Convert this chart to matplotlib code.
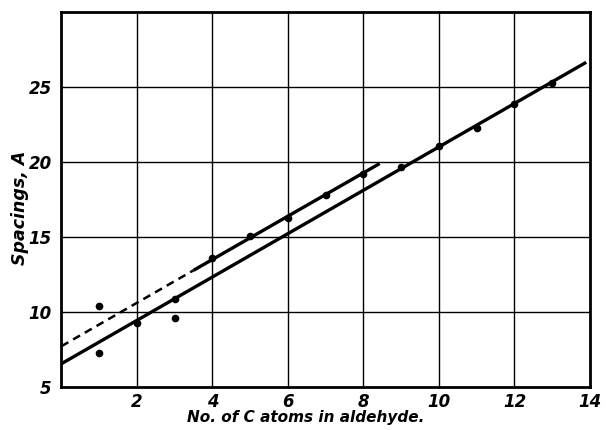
"""Spacings vs number of C atoms in aldehyde, redrawn from the scanned figure."""

import matplotlib
matplotlib.use("Agg")
import matplotlib.pyplot as plt

# Section: values.
carbon_atoms = [1, 1, 2, 3, 3, 4, 5, 6, 7, 8, 9, 10, 11, 12, 13]
spacings = [10.4, 7.3, 9.3, 10.9, 9.6, 13.6, 15.1, 16.3, 17.8, 19.2,
            19.7, 21.1, 22.3, 23.9, 25.3]

# lower fitted line (solid over the whole range)
lower_x = [0, 13.9]
lower_y = [6.55, 26.65]

# upper fitted line: dashed extrapolation, then solid
upper_dash_x = [0, 3.5]
upper_dash_y = [7.72, 12.78]
upper_solid_x = [3.5, 8.43]
upper_solid_y = [12.78, 19.9]

x_ticks = [2, 4, 6, 8, 10, 12, 14]
y_ticks = [5, 10, 15, 20, 25]

FONT = "DejaVu Sans"

# Section: draw the figure.
fig = plt.figure(figsize=(6.06, 4.30), dpi=100)
ax = fig.add_axes([0.1013, 0.1, 0.8723, 0.872])

ax.set_xlim(0, 14)
ax.set_ylim(5, 30)

for gx in range(2, 14, 2):
    ax.axvline(gx, color="black", lw=1.0, zorder=1)
for gy in range(10, 30, 5):
    ax.axhline(gy, color="black", lw=1.0, zorder=1)

ax.plot(lower_x, lower_y, color="black", lw=2.4, solid_capstyle="butt", zorder=3)
ax.plot(upper_dash_x, upper_dash_y, color="black", lw=1.8,
        dashes=(3.2, 2.2), zorder=3)
ax.plot(upper_solid_x, upper_solid_y, color="black", lw=2.4,
        solid_capstyle="butt", zorder=3)
ax.plot(carbon_atoms, spacings, "o", color="black", ms=4.5, zorder=4)

for side in ax.spines.values():
    side.set_linewidth(2.0)

ax.set_xticks(x_ticks)
ax.set_yticks(y_ticks)
ax.tick_params(axis="x", length=0, pad=4)
ax.tick_params(axis="y", length=0, pad=7)
for lab in ax.get_xticklabels() + ax.get_yticklabels():
    lab.set_fontfamily(FONT)
    lab.set_fontstyle("italic")
    lab.set_fontweight("bold")
    lab.set_fontsize(12)

fig.text(0.505, 0.03, "No. of C atoms in aldehyde.", family=FONT,
         style="oblique", weight="bold", fontsize=11, ha="center", va="center")
fig.text(0.033, 0.516, "Spacings, A", family=FONT, style="oblique",
         weight="bold", fontsize=12.5, rotation=90, ha="center", va="center")

fig.savefig("out.png", dpi=100)
